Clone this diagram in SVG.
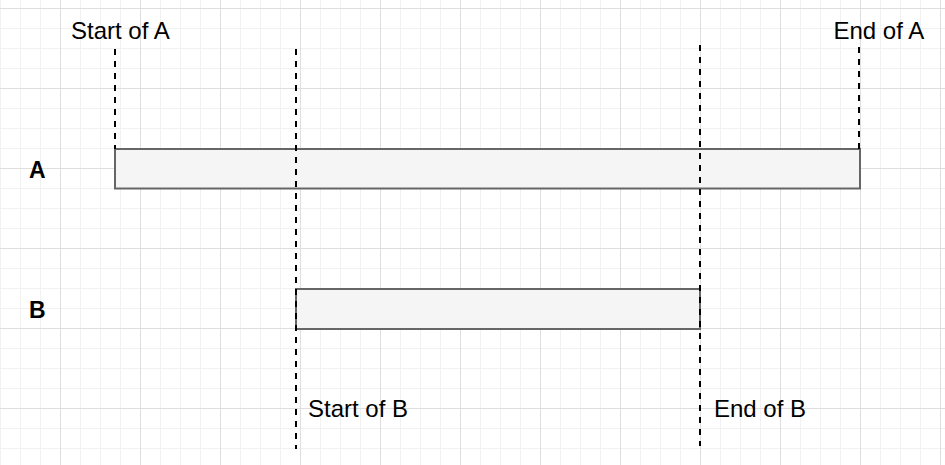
<svg xmlns="http://www.w3.org/2000/svg" width="945" height="465" viewBox="0 0 945 465">
  <defs>
    <pattern id="minor" width="20" height="20" patternUnits="userSpaceOnUse" x="0" y="8">
      <path d="M0 0.5H20M0.5 0V20" fill="none" stroke="#f1f1f1" stroke-width="1"/>
    </pattern>
    <pattern id="major" width="80" height="80" patternUnits="userSpaceOnUse" x="60" y="8">
      <path d="M0 0.5H80M0.5 0V80" fill="none" stroke="#dedede" stroke-width="1"/>
    </pattern>
  </defs>
  <style>
    .bar { fill: #f5f5f5; stroke: #666666; stroke-width: 2; }
    .guide { fill: none; stroke: #000000; stroke-width: 2; stroke-dasharray: 6 6; }
    .lbl { font-family: "Liberation Sans", Arial, sans-serif; font-size: 24px; fill: #000000; }
    .row { font-family: "Liberation Sans", Arial, sans-serif; font-size: 23px; font-weight: bold; fill: #000000; }
  </style>
  <rect x="0" y="0" width="945" height="465" fill="#ffffff"/>
  <rect x="0" y="0" width="945" height="465" fill="url(#minor)"/>
  <rect x="0" y="0" width="945" height="465" fill="url(#major)"/>

  <g id="barA">
    <rect class="bar" x="115" y="149" width="745" height="39.5"/>
  </g>
  <g id="barB">
    <rect class="bar" x="296" y="289" width="404" height="40"/>
  </g>

  <g id="connectors">
    <line class="guide" x1="115" y1="49" x2="115" y2="149"/>
    <line class="guide" x1="296" y1="49" x2="296" y2="449"/>
    <line class="guide" x1="700" y1="45" x2="700" y2="446"/>
    <line class="guide" x1="859" y1="47" x2="859" y2="149"/>
  </g>

  <g id="labelA"><text class="row" x="29" y="178">A</text></g>
  <g id="labelB"><text class="row" x="29" y="318">B</text></g>
  <g id="startA"><text class="lbl" x="71" y="38.5">Start of A</text></g>
  <g id="endA"><text class="lbl" x="833.5" y="38.5">End of A</text></g>
  <g id="startB"><text class="lbl" x="308" y="417">Start of B</text></g>
  <g id="endB"><text class="lbl" x="714" y="417">End of B</text></g>
</svg>
